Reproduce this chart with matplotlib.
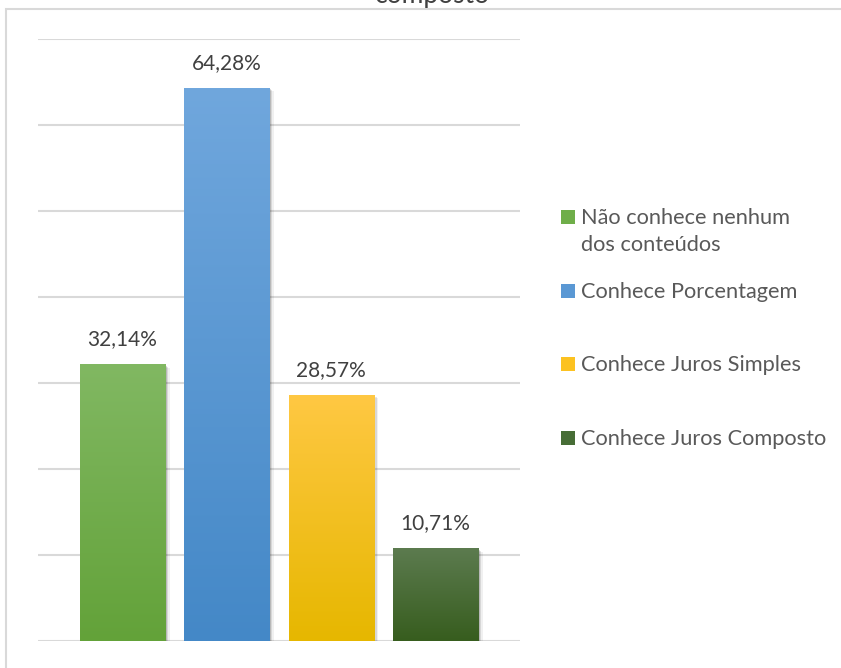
import numpy as np
import matplotlib
matplotlib.use("Agg")
import matplotlib.pyplot as plt
from matplotlib.patches import Rectangle
from matplotlib.colors import to_rgb

plt.rcParams['font.family'] = ['Lato', 'DejaVu Sans']

# ---- data ----
series = ["Não conhece nenhum\ndos conteúdos", "Conhece Porcentagem",
          "Conhece Juros Simples", "Conhece Juros Composto"]
values = [32.14, 64.28, 28.57, 10.71]
labels = ["32,14%", "64,28%", "28,57%", "10,71%"]
title = "composto"
top_colors = ["#81b862", "#70a7dd", "#ffc843", "#5c7b4f"]
bottom_colors = ["#63a239", "#4488c7", "#e6b700", "#375d1e"]
legend_colors = ["#6fae49", "#5a98d4", "#fcc221", "#476d36"]

W, H = 841, 668
fig = plt.figure(figsize=(W / 100, H / 100), dpi=100)

# outer chart border (partly cut off)
fig.patches.append(Rectangle((6 / W, -0.2), 2.0, (H - 9) / H + 0.2,
                             transform=fig.transFigure, fill=False,
                             edgecolor="#d9d9d9", linewidth=1.5))

fig.text(432 / W, 1 - 3 / H, title, ha="center", va="baseline",
         fontsize=19, color="#404040")

ax = fig.add_axes([38 / W, (H - 641) / H, 482 / W, 602 / H])
ax.set_ylim(0, 70)
x = np.arange(len(values))
ax.set_xlim(-0.81, len(values) - 1 + 0.81)
bars = ax.bar(x, values, width=0.815, color="none", zorder=3)

ax.set_yticks(np.arange(0, 71, 10))
ax.yaxis.grid(True, color="#d9d9d9", linewidth=1.5)
ax.set_axisbelow(True)
ax.tick_params(left=False, bottom=False, labelleft=False, labelbottom=False)
for s in ax.spines.values():
    s.set_visible(False)

dx = 0.025
for i, b in enumerate(bars):
    x0, w, h = b.get_x(), b.get_width(), b.get_height()
    # soft shadow
    for k, a in [(3, 0.06), (2, 0.10), (1, 0.14)]:
        ax.add_patch(Rectangle((x0 + k * dx * 0.6, -k * 0.12), w, h,
                               facecolor="black", alpha=a, edgecolor="none",
                               zorder=2))
    c1 = np.array(to_rgb(top_colors[i]))
    c2 = np.array(to_rgb(bottom_colors[i]))
    t = np.linspace(0, 1, 256)[:, None]
    grad = (c1[None, :] * (1 - t) + c2[None, :] * t)[:, None, :]
    ax.imshow(grad, extent=[x0, x0 + w, 0, h], aspect="auto",
              origin="upper", zorder=4)
    ax.text(x0 + w / 2, h + 1.8, labels[i], ha="center", va="bottom",
            fontsize=15, color="#404040", zorder=5)
ax.set_xlim(-0.81, len(values) - 1 + 0.81)
ax.set_ylim(0, 70)

# legend (manual)
ys = [217, 290.5, 364, 438]
for i, name in enumerate(series):
    yc = ys[i]
    fig.patches.append(Rectangle((561 / W, 1 - (yc + 7) / H), 14 / W, 14 / H,
                                 transform=fig.transFigure,
                                 facecolor=legend_colors[i], edgecolor="none"))
    for j, line in enumerate(name.split("\n")):
        fig.text(581 / W, 1 - (yc + 7 + 27 * j) / H, line, ha="left",
                 va="baseline", fontsize=15.7, color="#595959")

fig.savefig("out.png", dpi=100)
